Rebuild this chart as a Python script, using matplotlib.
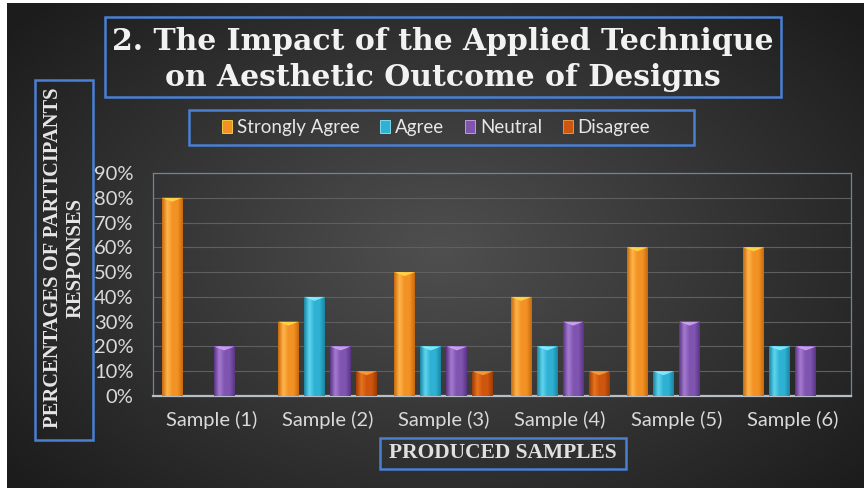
import numpy as np
import matplotlib
matplotlib.use('Agg')
import matplotlib.pyplot as plt
from matplotlib.patches import Rectangle, Polygon
from matplotlib.colors import LinearSegmentedColormap

# data
samples = ['Sample (1)', 'Sample (2)', 'Sample (3)', 'Sample (4)', 'Sample (5)', 'Sample (6)']
series = ['Strongly Agree', 'Agree', 'Neutral', 'Disagree']
strongly_agree = [0.80, 0.30, 0.50, 0.40, 0.60, 0.60]
agree = [0.00, 0.40, 0.20, 0.20, 0.10, 0.20]
neutral = [0.20, 0.20, 0.20, 0.30, 0.30, 0.20]
disagree = [0.00, 0.10, 0.10, 0.10, 0.00, 0.00]
values = [strongly_agree, agree, neutral, disagree]

# (edge, light, base, cap)
palette = [
    ('#c86a0c', '#ffb54a', '#f39224', '#ffd84a'),
    ('#1a86a3', '#5fd6f0', '#2fb1d3', '#8cecff'),
    ('#5a3585', '#a57bd2', '#7f55b0', '#cfa6f5'),
    ('#9e3c06', '#e8741f', '#cf560e', '#f6a040'),
]

W, H = 864, 488
fig = plt.figure(figsize=(W / 100, H / 100), dpi=100)

# dark radial background
bg = fig.add_axes([0, 0, 1, 1])
bg.set_axis_off()
yy, xx = np.mgrid[0:H, 0:W]
r = np.sqrt(((xx - 440) / 500.0) ** 2 + ((yy - 250) / 320.0) ** 2)
shade = np.clip(0.31 - 0.18 * r, 0.11, 0.31)
bg.imshow(np.dstack([shade, shade, shade]), extent=[0, W, H, 0], aspect='auto')
bg.set_xlim(0, W)
bg.set_ylim(H, 0)
bg.add_patch(Rectangle((0, 0), 7, H, color='white', lw=0))
bg.add_patch(Rectangle((0, 0), W, 3, color='white', lw=0))

# frames around title, legend and axis titles
box_col = '#4a80d4'
for x0, y0, x1, y1 in [(105, 17, 781, 97), (189, 110, 694, 145),
                       (35, 80, 93, 440), (380, 438, 626, 469)]:
    bg.add_patch(Rectangle((x0, y0), x1 - x0, y1 - y0, fill=False,
                           ec=box_col, lw=1.8))

bg.text(443, 41, '2. The Impact of the Applied Technique', ha='center', va='center',
        family='DejaVu Serif', weight='bold', fontsize=21.5, color='#f2f2f2')
bg.text(443, 77, 'on Aesthetic Outcome of Designs', ha='center', va='center',
        family='DejaVu Serif', weight='bold', fontsize=21.5, color='#f2f2f2')
bg.text(64, 258, 'PERCENTAGES OF PARTICIPANTS\nRESPONSES', ha='center', va='center',
        rotation=90, family='Liberation Serif', weight='bold', fontsize=14.8,
        color='#e6e6e6', linespacing=1.15)
bg.text(503, 453, 'PRODUCED SAMPLES', ha='center', va='center',
        family='Liberation Serif', weight='bold', fontsize=15.5, color='#e0e0e0')

# plot area
ax = fig.add_axes([153 / W, 1 - 396 / H, (851 - 153) / W, (396 - 173) / H])
ax.set_facecolor('none')

x = np.arange(len(samples))
step = 0.224
width = 0.18
handles = []
for i, (name, vals) in enumerate(zip(series, values)):
    edge, light, base, cap = palette[i]
    pos = x + (i - 1.5) * step
    bars = ax.bar(pos, vals, width, color=base, zorder=2, label=name)
    handles.append(Rectangle((0, 0), 1, 1, fc=base, ec=cap, lw=0.6))
    cmap = LinearSegmentedColormap.from_list(name, [edge, light, base, base, edge])
    grad = np.linspace(0, 1, 64).reshape(1, -1)
    for b, v in zip(bars, vals):
        if v <= 0:
            continue
        bx = b.get_x()
        im = ax.imshow(grad, cmap=cmap, extent=[bx, bx + width, 0, v],
                       aspect='auto', zorder=3)
        im.set_clip_path(b)
        ax.add_patch(Polygon([(bx, v), (bx + width, v), (bx + width / 2, v - 0.016)],
                             closed=True, fc=cap, ec='none', alpha=0.9, zorder=4))

ax.set_xlim(-0.5, len(samples) - 0.5)
ax.set_ylim(0, 0.9)
ax.set_yticks(np.arange(0, 0.91, 0.1))
ax.set_yticklabels([f'{int(round(t * 100))}%' for t in np.arange(0, 0.91, 0.1)])
ax.set_xticks(x)
ax.set_xticklabels(samples)
ax.tick_params(axis='both', length=0, colors='#d9d9d9', labelsize=14.5)
ax.tick_params(axis='y', pad=14)
ax.tick_params(axis='x', pad=11)
for lab in ax.get_xticklabels() + ax.get_yticklabels():
    lab.set_family('Lato')
ax.yaxis.grid(True, color='#5f5f5f', lw=0.8, zorder=0)
ax.set_axisbelow(True)
for s in ['left', 'top', 'right']:
    ax.spines[s].set_color('#6f8599')
    ax.spines[s].set_linewidth(0.9)
ax.spines['bottom'].set_color('#b8bec6')
ax.spines['bottom'].set_linewidth(1.6)

leg = fig.legend(handles, series, loc='center', bbox_to_anchor=(436 / W, 1 - 127.5 / H),
                 ncol=4, frameon=False, handlelength=0.55, handleheight=0.75,
                 handletextpad=0.25, columnspacing=1.1,
                 prop={'family': 'Lato', 'size': 13.5})
for t in leg.get_texts():
    t.set_color('#e6e6e6')

fig.savefig('out.png', dpi=100)
